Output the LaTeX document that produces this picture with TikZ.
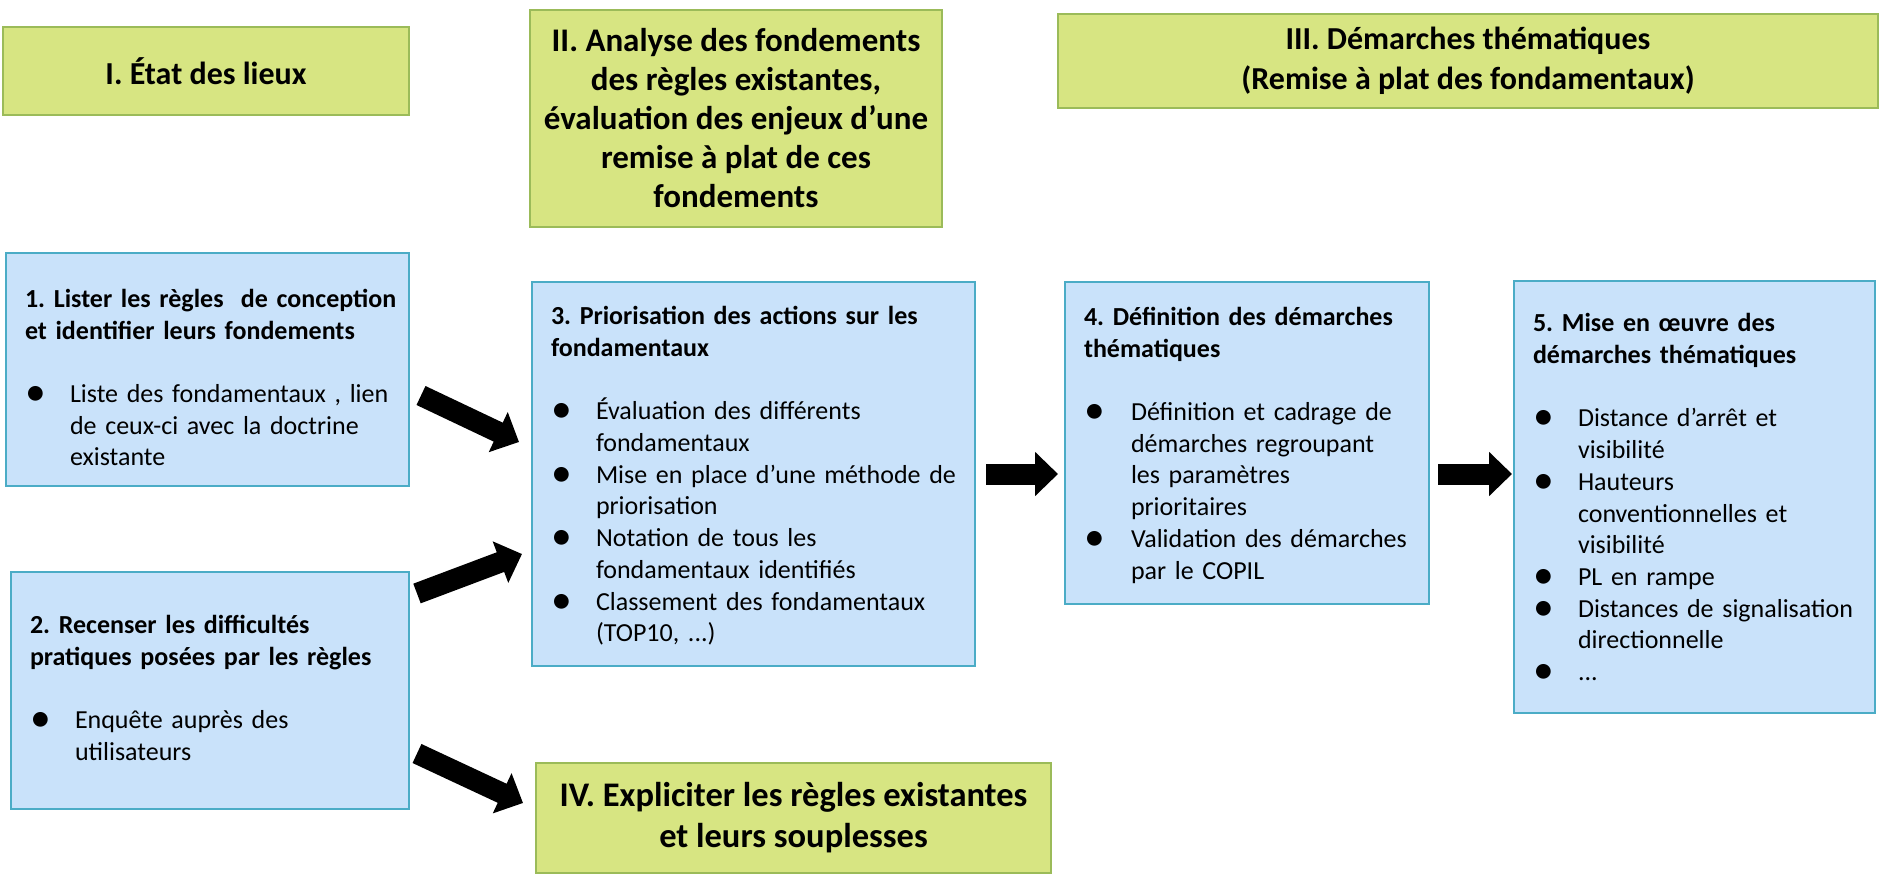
\documentclass[tikz,border=0pt]{standalone}
\usepackage{fontspec}
\setmainfont{Carlito}
\usepackage{tikz}
\usetikzlibrary{positioning, arrows.meta}
\frenchspacing

\definecolor{bleufond}{RGB}{201,226,250}
\definecolor{bleubord}{RGB}{75,172,198}
\definecolor{vertfond}{RGB}{215,229,130}
\definecolor{vertbord}{RGB}{155,187,89}

\newcommand{\puce}{\smash{\raisebox{-3pt}{\scalebox{1.6}{\textbullet}}}}
\newcommand{\titreb}[1]{\multicolumn{2}{@{}l@{}}{\textbf{#1}}}

\begin{document}
\begin{tikzpicture}[x=1pt, y=-1pt,
    etape/.style={draw=bleubord, fill=bleufond, line width=2pt, anchor=north west,
        inner xsep=19pt, inner ysep=0pt, align=left,
        font=\fontsize{26}{31.7}\selectfont},
    titre/.style={draw=vertbord, fill=vertfond, line width=2pt, anchor=north west,
        inner sep=0pt, align=center,
        font=\bfseries\fontsize{32}{39}\selectfont},
    fleche/.style={line width=21pt, -{Triangle[width=43pt,length=23pt]}}]
\useasboundingbox (0,0) rectangle (1880,877);

% grandes phases
\node[titre, minimum width=406pt, minimum height=88pt] (etat) at (2,26) {I. État des lieux};
\node[titre, minimum width=412pt, minimum height=217pt, font=\bfseries\fontsize{33}{39}\selectfont] (analyse) at (529,9)
    {II. Analyse des fondements\\des règles existantes,\\évaluation des enjeux d’une\\remise à plat de ces\\fondements};
\node[titre, minimum width=820pt, minimum height=94pt, font=\bfseries\fontsize{32}{40}\selectfont] (demarches) at (1057,13)
    {III. Démarches thématiques\\(Remise à plat des fondamentaux)};
\node[titre, minimum width=515pt, minimum height=110pt, font=\bfseries\fontsize{34.5}{41}\selectfont] (expliciter) at (535,762)
    {IV. Expliciter les règles existantes\\et leurs souplesses};

% etapes
\node[etape, text width=365pt, minimum height=233pt] (b1) at (5,252) {%
\begin{tabular}{@{}p{45pt}@{}l@{}}
\titreb{\rule{0pt}{44pt}1. Lister les règles\ \ de conception}\\
\titreb{et identifier leurs fondements}\\
& \\
\puce & Liste des fondamentaux , lien\\
& de ceux-ci avec la doctrine\\
& existante
\end{tabular}};

\node[etape, text width=360pt, minimum height=237pt] (b2) at (10,571) {%
\begin{tabular}{@{}p{45pt}@{}l@{}}
\titreb{2. Recenser les difficultés}\\
\titreb{pratiques posées par les règles}\\
& \\
\puce & Enquête auprès des\\
& utilisateurs
\end{tabular}};

\node[etape, text width=405pt, minimum height=384pt] (b3) at (531,281) {%
\begin{tabular}{@{}p{45pt}@{}l@{}}
\titreb{\rule{0pt}{28pt}3. Priorisation des actions sur les}\\
\titreb{fondamentaux}\\
& \\
\puce & Évaluation des différents\\
& fondamentaux\\
\puce & Mise en place d’une méthode de\\
& priorisation\\
\puce & Notation de tous les\\
& fondamentaux identifiés\\
\puce & Classement des fondamentaux\\
& (TOP10, ...)
\end{tabular}};

\node[etape, text width=326pt, minimum height=322pt] (b4) at (1064,281) {%
\begin{tabular}{@{}p{47pt}@{}l@{}}
\titreb{\rule{0pt}{28pt}4. Définition des démarches}\\
\titreb{thématiques}\\
& \\
\puce & Définition et cadrage de\\
& démarches regroupant\\
& les paramètres\\
& prioritaires\\
\puce & Validation des démarches\\
& par le COPIL
\end{tabular}};

\node[etape, text width=323pt, minimum height=432pt] (b5) at (1513,280) {%
\begin{tabular}{@{}p{45pt}@{}l@{}}
\titreb{\rule{0pt}{28pt}5. Mise en œuvre des}\\
\titreb{démarches thématiques}\\
& \\
\puce & Distance d’arrêt et\\
& visibilité\\
\puce & Hauteurs\\
& conventionnelles et\\
& visibilité\\
\puce & PL en rampe\\
\puce & Distances de signalisation\\
& directionnelle\\
\puce & ...
\end{tabular}};

% fleches
\draw[fleche] ([shift={(11,26)}]b1.east) -- ([shift={(-12,-32)}]b3.west);
\draw[fleche] ([shift={(7,-97)}]b2.east) -- ([shift={(-9,80)}]b3.west);
\draw[fleche] ([shift={(7,63)}]b2.east) -- ([shift={(-12,-15)}]expliciter.west);
\draw[fleche] ([xshift=10pt]b3.east) -- ([xshift=-6pt]b3.east -| b4.west);
\draw[fleche] ([xshift=8pt]b3.east -| b4.east) -- ([xshift=-1pt]b3.east -| b5.west);
\end{tikzpicture}
\end{document}
